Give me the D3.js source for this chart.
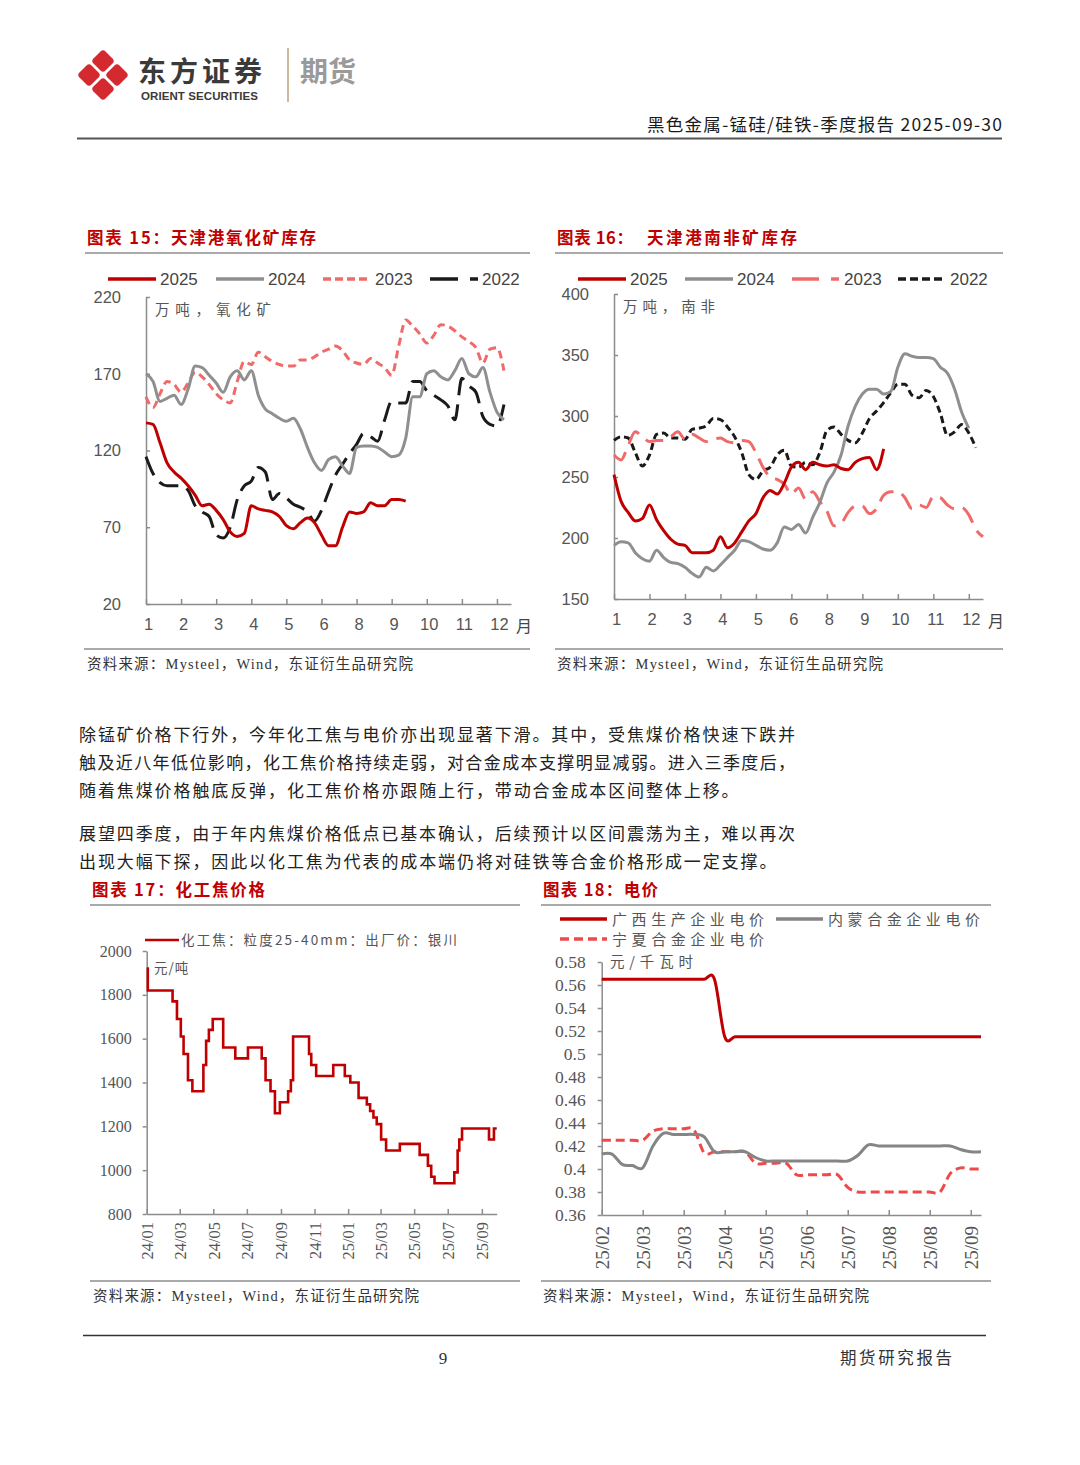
<!DOCTYPE html>
<html><head><meta charset="utf-8">
<script src="https://cdn.jsdelivr.net/npm/d3@7"></script>
<style>
html,body{margin:0;padding:0;background:#fff;}
svg{display:block;}
</style></head><body>
<svg id="page" width="1080" height="1465"></svg>
<script>
// ===== DATA =====
const weekTickLabels = ["1","2","3","4","5","6","8","9","10","11","12"];
const yearNames = ["2025","2024","2023","2022"];

// 图表15 天津港氧化矿库存 (万吨), weekly
const oxide2025 = [138,137,125,112,106,102,97,91,84,85,81,75,67,64,66,84,82,81,80,77,71,69,73,76,73,65,58,58,70,80,79,80,86,84,84,88,88,87];
const oxide2024 = [170,165,152,154,156,150,160,175,174,169,164,158,168,172,166,172,156,147,144,141,139,141,134,122,112,107,114,116,110,105,122,123,123,122,119,116,117,128,155,155,170,172,168,166,172,180,170,168,174,158,145,140];
const oxide2023 = [155,148,157,165,163,158,164,171,168,163,157,153,151,165,178,176,184,181,178,176,175,175,179,179,181,184,186,188,185,179,177,176,180,177,174,169,188,205,201,196,190,195,202,201,198,194,191,187,177,186,187,172];
const oxide2022 = [116,105,99,97,97,97,94,84,80,77,65,63,70,88,97,100,109,106,88,92,89,85,83,80,74,81,93,104,111,118,124,131,129,126,140,152,151,151,165,165,159,156,153,149,140,167,162,158,142,137,136,150];
const oxideYTicks = [20,70,120,170,220];

// 图表16 天津港南非矿库存 (万吨), weekly
const safrica2025 = [252,230,221,214,216,227,215,206,199,195,194,188,188,188,190,201,192,196,205,214,220,233,239,236,245,258,262,256,262,260,259,260,257,256,262,265,266,256,273];
const safrica2024 = [194,197,196,188,183,181,190,184,180,179,176,171,168,176,173,178,184,190,198,197,194,191,190,196,209,207,211,204,217,229,245,254,268,292,308,318,322,322,318,320,340,351,349,348,348,347,340,335,322,303,290];
const safrica2023 = [268,264,276,287,283,279,280,280,283,287,281,285,282,279,281,282,279,278,280,279,270,258,250,248,244,236,241,232,238,230,222,210,212,221,226,226,220,224,235,238,238,233,224,227,225,234,233,227,224,225,219,207,201];
const safrica2022 = [280,283,282,270,259,268,285,286,282,282,281,289,290,292,298,297,291,283,270,252,248,255,258,268,272,259,258,262,260,270,288,291,285,280,278,286,298,304,311,319,326,326,317,315,321,316,302,284,287,293,286,274];
const safricaYTicks = [150,200,250,300,350,400];

// 图表17 化工焦：粒度25-40mm：出厂价：银川 (元/吨), step changes
const cokeDates = ["2024-01-01","2024-01-03","2024-02-17","2024-02-25","2024-03-03","2024-03-08","2024-03-16","2024-03-24","2024-04-13","2024-04-18","2024-04-23","2024-04-30","2024-05-19","2024-06-10","2024-07-03","2024-07-28","2024-08-04","2024-08-13","2024-08-21","2024-08-30","2024-09-14","2024-09-19","2024-09-23","2024-10-22","2024-10-26","2024-11-04","2024-12-05","2024-12-26","2025-01-05","2025-01-20","2025-02-04","2025-02-10","2025-02-16","2025-02-22","2025-03-02","2025-03-11","2025-04-05","2025-05-11","2025-05-26","2025-06-01","2025-06-07","2025-07-13","2025-07-19","2025-07-22","2025-07-27","2025-09-14","2025-09-23","2025-09-28"];
const cokeValues = [1920,1820,1770,1690,1610,1530,1410,1360,1480,1590,1640,1690,1560,1510,1560,1510,1410,1360,1260,1310,1360,1410,1610,1530,1480,1430,1480,1430,1400,1330,1300,1270,1240,1210,1140,1090,1120,1070,1020,970,940,990,1090,1140,1190,1140,1190,1190];
const cokeYTicks = [800,1000,1200,1400,1600,1800,2000];
const cokeTickDates = ["2024-01-01","2024-03-01","2024-05-01","2024-07-01","2024-09-01","2024-11-01","2025-01-01","2025-03-01","2025-05-01","2025-07-01","2025-09-01"];

// 图表18 电价 (元/千瓦时)
const powerGuangxi = [0.565,0.565,0.565,0.565,0.565,0.565,0.565,0.565,0.565,0.565,0.565,0.565,0.515,0.515,0.515,0.515,0.515,0.515,0.515,0.515,0.515,0.515,0.515,0.515,0.515,0.515,0.515,0.515,0.515,0.515,0.515,0.515,0.515,0.515,0.515,0.515,0.515,0.515];
const powerNeimeng = [0.413,0.413,0.404,0.403,0.401,0.420,0.431,0.430,0.430,0.430,0.428,0.415,0.415,0.415,0.415,0.410,0.407,0.407,0.407,0.407,0.407,0.407,0.407,0.407,0.407,0.412,0.421,0.420,0.420,0.420,0.420,0.420,0.420,0.420,0.420,0.417,0.415,0.415];
const powerNingxia = [0.425,0.425,0.425,0.425,0.425,0.433,0.435,0.435,0.435,0.434,0.414,0.415,0.415,0.415,0.415,0.405,0.405,0.405,0.405,0.395,0.395,0.395,0.395,0.395,0.384,0.380,0.380,0.380,0.380,0.380,0.380,0.380,0.380,0.380,0.396,0.401,0.400,0.400];
const powerYTickLabels = ["0.36","0.38","0.4","0.42","0.44","0.46","0.48","0.5","0.52","0.54","0.56","0.58"];
const powerTickLabels = ["25/02","25/03","25/03","25/04","25/05","25/06","25/07","25/08","25/08","25/09"];

// ===== DRAW =====
const svg = d3.select("#page");
svg.append("rect").attr("width",1080).attr("height",1465).attr("fill","#fff");
const CJK = "'Noto Sans CJK SC', sans-serif";
const SERIF = "'Liberation Serif', 'Noto Sans CJK SC', serif";
const SANS = "'Liberation Sans', Arial, sans-serif";
const RED = "#c00000", GRAY = "#8f8f8f", PINK = "#f06a6a", BLACK = "#1a1a1a", AXIS = "#8c8c8c";

function txt(x, y, s, o = {}) {
  const t = svg.append("text").attr("x", x).attr("y", y).text(s)
    .attr("font-family", o.family || CJK).attr("font-size", o.size || 14)
    .attr("fill", o.fill || "#333").attr("font-weight", o.weight || 400)
    .attr("text-anchor", o.anchor || "start");
  if (o.ls) t.attr("letter-spacing", o.ls);
  if (o.len) t.attr("textLength", o.len).attr("lengthAdjust", "spacing");
  return t;
}
function hline(x1, x2, y, c, w) {
  svg.append("line").attr("x1", x1).attr("x2", x2).attr("y1", y).attr("y2", y).attr("stroke", c).attr("stroke-width", w);
}

// ---- header ----
const logo = svg.append("g").attr("transform", "translate(103,75)");
[[0,-14],[14,0],[0,14],[-14,0]].forEach(([dx,dy]) => {
  logo.append("rect").attr("x",-8.5).attr("y",-8.5).attr("width",17).attr("height",17).attr("rx",3.5)
    .attr("fill","#d42a2f").attr("transform",`translate(${dx},${dy}) rotate(45)`);
});
txt(138, 82, "东方证券", {size: 28, weight: 700, fill: "#3a3a3a", len: 124});
txt(141, 100, "ORIENT SECURITIES", {family: SANS, size: 11.5, weight: 700, fill: "#3a3a3a", len: 117});
svg.append("line").attr("x1",288).attr("x2",288).attr("y1",48).attr("y2",102).attr("stroke","#cbbb9c").attr("stroke-width",2);
txt(300, 82, "期货", {size: 28, weight: 700, fill: "#9a9a9a"});
txt(647, 131, "黑色金属-锰硅/硅铁-季度报告 2025-09-30", {size: 17.5, fill: "#1a1a1a", len: 355});
hline(77, 1002, 138.5, "#555", 2);

// ---- weekly charts (15 & 16) ----
function weeklyChart(cfg) {
  const x = d3.scaleLinear().domain([0, 52]).range([cfg.left, cfg.right]);
  const y = d3.scaleLinear().domain(cfg.yDomain).range([cfg.bottom, cfg.top]);
  const g = svg.append("g");
  const ya = g.append("g").attr("transform", `translate(${cfg.left},0)`)
    .call(d3.axisLeft(y).tickValues(cfg.yTicks).tickSizeInner(-4).tickSizeOuter(0).tickPadding(25).tickFormat(d3.format("d")));
  const xa = g.append("g").attr("transform", `translate(0,${cfg.bottom})`)
    .call(d3.axisBottom(x).tickValues(d3.range(0, 51, 5)).tickSizeInner(-5).tickSizeOuter(0).tickPadding(14)
      .tickFormat((d, i) => weekTickLabels[i]));
  [ya, xa].forEach(a => {
    a.selectAll("path,line").attr("stroke", AXIS).attr("stroke-width", 1.5);
    a.selectAll("text").attr("font-family", SANS).attr("font-size", 16.5).attr("fill", "#555");
  });
  xa.selectAll("text").attr("dx", 2);
  txt(cfg.right + 13, cfg.bottom + 28, "月", {size: 16, fill: "#444", anchor: "middle"});
  txt(cfg.left + 9, cfg.top + 18, cfg.unit, {size: 14.5, fill: "#555", len: cfg.unitLen});
  const line = d3.line().x((d, i) => x(i)).y(d => y(d)).curve(d3.curveMonotoneX);
  cfg.series.slice().reverse().forEach(s => {
    g.append("path").datum(s.values).attr("d", line).attr("fill", "none")
      .attr("stroke", s.color).attr("stroke-width", 3).attr("stroke-dasharray", s.dash || null)
      .attr("stroke-linejoin", "round");
  });
  // legend
  cfg.series.forEach((s, i) => {
    const lx = cfg.legendX[i];
    svg.append("line").attr("x1", lx).attr("x2", lx + 48).attr("y1", cfg.legendY).attr("y2", cfg.legendY)
      .attr("stroke", s.color).attr("stroke-width", 3.5).attr("stroke-dasharray", s.legendDash || s.dash || null);
    txt(lx + 52, cfg.legendY + 6, yearNames[i], {family: SANS, size: 17, fill: "#444"});
  });
}

const SOURCE = "资料来源：Mysteel，Wind，东证衍生品研究院";

// Chart 15
txt(87, 244, "图表 15：天津港氧化矿库存", {size: 16.5, weight: 700, fill: RED, len: 229});
hline(85, 530, 253, "#555", 1.2);
weeklyChart({
  left: 146, right: 511, top: 297, bottom: 604, yDomain: [20, 220], yTicks: oxideYTicks,
  unit: "万吨，氧化矿", unitLen: 116, legendX: [108, 216, 323, 430], legendY: 279,
  series: [
    {values: oxide2025, color: RED},
    {values: oxide2024, color: GRAY},
    {values: oxide2023, color: PINK, dash: "8,5", legendDash: "8,4"},
    {values: oxide2022, color: BLACK, dash: "20,9", legendDash: "28,12,8,12"}
  ]
});
hline(84, 530, 649, "#555", 1.2);
txt(87, 669, SOURCE, {family: SERIF, size: 14.5, fill: "#333", len: 326});

// Chart 16
txt(557, 244, "图表 16：", {size: 16.5, weight: 700, fill: RED, len: 76});
txt(647, 244, "天津港南非矿库存", {size: 16.5, weight: 700, fill: RED, len: 150});
hline(555, 1003, 253, "#555", 1.2);
weeklyChart({
  left: 614, right: 983, top: 294, bottom: 599, yDomain: [150, 400], yTicks: safricaYTicks,
  unit: "万吨，南非", unitLen: 92, legendX: [578, 685, 792, 898], legendY: 279,
  series: [
    {values: safrica2025, color: RED},
    {values: safrica2024, color: GRAY},
    {values: safrica2023, color: PINK, dash: "18,9", legendDash: "27,12,8,12"},
    {values: safrica2022, color: BLACK, dash: "7,4", legendDash: "8,4"}
  ]
});
hline(555, 1003, 649, "#555", 1.2);
txt(557, 669, SOURCE, {family: SERIF, size: 14.5, fill: "#333", len: 326});

// ---- paragraphs ----
const paraLines = [
  ["除锰矿价格下行外，今年化工焦与电价亦出现显著下滑。其中，受焦煤价格快速下跌并", 741, 718],
  ["触及近八年低位影响，化工焦价格持续走弱，对合金成本支撑明显减弱。进入三季度后，", 769, 718],
  ["随着焦煤价格触底反弹，化工焦价格亦跟随上行，带动合金成本区间整体上移。", 797, null],
  ["展望四季度，由于年内焦煤价格低点已基本确认，后续预计以区间震荡为主，难以再次", 840, 718],
  ["出现大幅下探，因此以化工焦为代表的成本端仍将对硅铁等合金价格形成一定支撑。", 868, null]
];
paraLines.forEach(([s, y, len]) => {
  const o = {size: 17, fill: "#222", ls: 1.9};
  if (len) o.len = len;
  txt(79, y, s, o);
});

// ---- Chart 17 ----
txt(92, 896, "图表 17：化工焦价格", {size: 16.5, weight: 700, fill: RED, len: 173});
hline(90, 520, 905, "#555", 1.2);
{
  const parse = d3.timeParse("%Y-%m-%d");
  const pts = cokeDates.map((d, i) => [parse(d), cokeValues[i]]);
  const x = d3.scaleTime().domain([parse("2024-01-01"), parse("2025-09-28")]).range([146.7, 496.7]);
  const y = d3.scaleLinear().domain([800, 2000]).range([1214, 951]);
  const g = svg.append("g");
  const ya = g.append("g").attr("transform", "translate(146.7,0)")
    .call(d3.axisLeft(y).tickValues(cokeYTicks).tickSizeInner(4).tickSizeOuter(0).tickPadding(11).tickFormat(d3.format("d")));
  const xa = g.append("g").attr("transform", "translate(0,1214)")
    .call(d3.axisBottom(x).tickValues(cokeTickDates.map(parse)).tickSizeInner(-5).tickSizeOuter(0).tickFormat(d3.timeFormat("%y/%m")));
  [ya, xa].forEach(a => {
    a.selectAll("path,line").attr("stroke", AXIS).attr("stroke-width", 1.5);
    a.selectAll("text").attr("font-family", SERIF).attr("font-size", 16).attr("fill", "#555");
  });
  xa.selectAll("text").attr("transform", "rotate(-90)").attr("text-anchor", "end")
    .attr("x", -8).attr("y", 0).attr("dy", "0.35em").attr("font-size", 16.5);
  g.append("path").datum(pts).attr("fill", "none").attr("stroke", RED).attr("stroke-width", 2.6)
    .attr("d", d3.line().x(d => x(d[0])).y(d => y(d[1])).curve(d3.curveStepAfter));
  svg.append("line").attr("x1", 145).attr("x2", 179).attr("y1", 940).attr("y2", 940).attr("stroke", RED).attr("stroke-width", 2.6);
  txt(181, 945, "化工焦：粒度25-40mm：出厂价：银川", {size: 13.5, fill: "#555", len: 276});
  txt(154, 973, "元/吨", {size: 13.5, fill: "#555", ls: 1});
}
hline(90, 520, 1281, "#555", 1.2);
txt(93, 1301, SOURCE, {family: SERIF, size: 14.5, fill: "#333", len: 326});

// ---- Chart 18 ----
txt(543, 896, "图表 18：电价", {size: 16.5, weight: 700, fill: RED, len: 115});
hline(541, 991, 905, "#555", 1.2);
{
  const x = d3.scaleLinear().domain([0, 37]).range([601.7, 981]);
  const y = d3.scaleLinear().domain([0.36, 0.58]).range([1215, 962]);
  const g = svg.append("g");
  const ya = g.append("g").attr("transform", "translate(601.7,0)")
    .call(d3.axisLeft(y).tickValues(powerYTickLabels.map(Number)).tickSizeInner(4).tickSizeOuter(0).tickPadding(12)
      .tickFormat((d, i) => powerYTickLabels[i]));
  const xa = g.append("g").attr("transform", "translate(0,1215)")
    .call(d3.axisBottom(x).tickValues(d3.range(0, 37, 4)).tickSizeInner(-5).tickSizeOuter(0)
      .tickFormat((d, i) => powerTickLabels[i]));
  [ya, xa].forEach(a => {
    a.selectAll("path,line").attr("stroke", AXIS).attr("stroke-width", 1.5);
    a.selectAll("text").attr("font-family", SERIF).attr("font-size", 17.5).attr("fill", "#555");
  });
  xa.selectAll("text").attr("transform", "rotate(-90)").attr("text-anchor", "end")
    .attr("x", -11).attr("y", 0).attr("dy", "0.35em").attr("font-size", 19);
  const line = d3.line().x((d, i) => x(i)).y(d => y(d)).curve(d3.curveCatmullRom.alpha(0));
  const ser = [
    {v: powerNingxia, c: "#ee4a4a", dash: "9,5"},
    {v: powerNeimeng, c: "#858585"},
    {v: powerGuangxi, c: RED}
  ];
  ser.forEach(s => g.append("path").datum(s.v).attr("d", line).attr("fill", "none")
    .attr("stroke", s.c).attr("stroke-width", 3).attr("stroke-dasharray", s.dash || null));
  const leg = [
    [560, 919, RED, null, "广西生产企业电价"],
    [776, 919, "#858585", null, "内蒙合金企业电价"],
    [560, 939, "#ee4a4a", "9,5", "宁夏合金企业电价"]
  ];
  leg.forEach(([lx, ly, c, dash, name]) => {
    svg.append("line").attr("x1", lx).attr("x2", lx + 47).attr("y1", ly).attr("y2", ly)
      .attr("stroke", c).attr("stroke-width", 3.5).attr("stroke-dasharray", dash);
    txt(lx + 52, ly + 5.5, name, {size: 15, fill: "#555", len: 152});
  });
  txt(610, 967, "元/千瓦时", {size: 14.5, fill: "#555", len: 83});
}
hline(541, 991, 1281, "#555", 1.2);
txt(543, 1301, SOURCE, {family: SERIF, size: 14.5, fill: "#333", len: 326});

// ---- footer ----
hline(83, 986, 1335.5, "#333", 1.5);
txt(443, 1364, "9", {family: SERIF, size: 17, fill: "#333", anchor: "middle"});
txt(840, 1364, "期货研究报告", {size: 16.5, fill: "#333", len: 112});
</script></body></html>
